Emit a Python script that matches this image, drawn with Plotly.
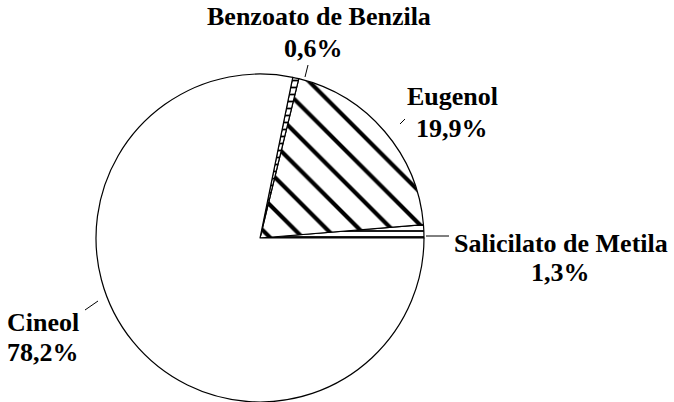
import plotly.graph_objects as go

labels = ["Salicilato de Metila", "Eugenol", "Benzoato de Benzila", "Cineol"]
values = [1.3, 19.9, 0.6, 78.2]
patterns = ["-", "\\", "-", ""]
pct_text = ["1,3%", "19,9%", "0,6%", "78,2%"]

W, H = 674, 402
FONT = "Liberation Serif"

# first slice starts at 3 o'clock and runs counterclockwise
rotation = 90 - values[0] / sum(values) * 360

fig = go.Figure()
fig.add_trace(go.Pie(
    labels=labels,
    values=values,
    sort=False,
    direction="counterclockwise",
    rotation=rotation,
    textinfo="none",
    hoverinfo="label+percent",
    showlegend=False,
    marker=dict(
        colors=["white"] * 4,
        line=dict(color="black", width=1.2),
        pattern=dict(
            shape=patterns,
            fgcolor="black",
            bgcolor="white",
            size=[6, 23, 7, 10],
            solidity=[0.3, 0.18, 0.25, 0.1],
        ),
    ),
    domain=dict(x=[94 / W, 426 / W], y=[0.0, 328 / H]),
))

def px(x, y):
    return x / W, 1 - y / H

# label positions (pixel centres) for name and percentage lines
label_pos = {
    "Benzoato de Benzila": ((319, 17), (313, 48)),
    "Eugenol": ((453, 96), (452, 129)),
    "Salicilato de Metila": ((561, 243), (560, 272)),
    "Cineol": ((43, 322), (43, 352)),
}
for name, pct in zip(labels, pct_text):
    (nx, ny), (qx, qy) = label_pos[name]
    for txt, (x, y) in ((name, (nx, ny)), (pct, (qx, qy))):
        X, Y = px(x, y)
        fig.add_annotation(x=X, y=Y, xref="paper", yref="paper", text="<b>%s</b>" % txt,
                           showarrow=False, xanchor="center", yanchor="middle",
                           font=dict(family=FONT, size=26, color="black"))

leaders = [((308, 65), (305, 77)), ((400, 124), (405, 119)),
           ((426, 236), (449, 236)), ((85, 310), (98, 301))]
for (x0, y0), (x1, y1) in leaders:
    X0, Y0 = px(x0, y0)
    X1, Y1 = px(x1, y1)
    fig.add_shape(type="line", xref="paper", yref="paper", x0=X0, y0=Y0, x1=X1, y1=Y1,
                  line=dict(color="black", width=1))

fig.update_layout(
    width=W, height=H,
    margin=dict(l=0, r=0, t=0, b=0),
    paper_bgcolor="white", plot_bgcolor="white",
    separators=",.",
)

fig.write_html("out.html", config={"displayModeBar": False},
               post_script="document.body.style.margin='0';document.body.style.overflow='hidden';")
